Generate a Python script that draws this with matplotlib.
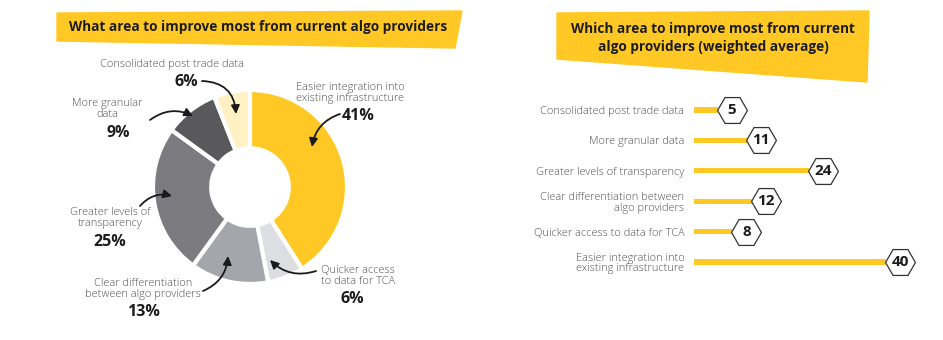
import matplotlib
matplotlib.use("Agg")
import matplotlib.pyplot as plt
from matplotlib.patches import Polygon
from matplotlib.transforms import ScaledTranslation

# ---- data ----
pie_labels = ["Easier integration into\nexisting infrastructure",
              "Quicker access\nto data for TCA",
              "Clear differentiation\nbetween algo providers",
              "Greater levels of\ntransparency",
              "More granular\ndata",
              "Consolidated post trade data"]
pie_values = [41, 6, 13, 25, 9, 6]
pie_colors = ["#FFC824", "#DCDEE1", "#A4A6AB", "#7B7B80", "#59595B", "#FFF1C4"]

bar_labels = ["Consolidated post trade data",
              "More granular data",
              "Greater levels of transparency",
              "Clear differentiation between\nalgo providers",
              "Quicker access to data for TCA",
              "Easier integration into\nexisting infrastructure"]
bar_values = [5, 11, 24, 12, 8, 40]

title_left = "What area to improve most from current algo providers"
title_right = "Which area to improve most from current\nalgo providers (weighted average)"

YELLOW = "#FFC824"
TXT = "#505050"
DARK = "#1c1c1c"
FONT = ["Open Sans", "DejaVu Sans"]
plt.rcParams["font.family"] = FONT

W, H = 943, 340
fig = plt.figure(figsize=(W / 100, H / 100), dpi=100)

def px_axes(x0, y0, w, h):
    return fig.add_axes([x0 / W, 1 - (y0 + h) / H, w / W, h / H])

# ---- donut ----
cx, cy, R = 250, 187, 97
axp = px_axes(cx - R, cy - R, 2 * R, 2 * R)
axp.pie(pie_values, colors=pie_colors, startangle=90, counterclock=False,
        radius=1.0, wedgeprops=dict(width=0.6, edgecolor="white", linewidth=3))
axp.set_xlim(-1, 1)
axp.set_ylim(-1, 1)
axp.set_aspect("equal")
axp.axis("off")

# ---- bars ----
x_left, px_per_unit = 694, 4.8
row_top, row_gap = 110, 30.4
n = len(bar_values)
ax_w = W - x_left
axb = px_axes(x_left, row_top - row_gap / 2, ax_w, row_gap * n)
ypos = list(range(n))
axb.barh(ypos, bar_values, height=0.17, color=YELLOW, left=0)
axb.set_xlim(0, ax_w / px_per_unit)
axb.set_ylim(n - 0.5, -0.5)
axb.set_yticks(ypos)
axb.set_yticklabels(bar_labels, fontsize=7.9, color=TXT, fontweight="light",
                    linespacing=1.0)
axb.tick_params(axis="y", length=0, pad=7)
axb.set_xticks([])
for s in axb.spines.values():
    s.set_visible(False)
axb.patch.set_alpha(0)

hex_off = ScaledTranslation(14 / 100, 0, fig.dpi_scale_trans)
for yi, v in zip(ypos, bar_values):
    axb.plot([v], [yi], marker="H", markersize=21.5, markerfacecolor="white",
             markeredgecolor="#333333", markeredgewidth=0.9,
             transform=axb.transData + hex_off, clip_on=False, zorder=3)
    axb.text(v, yi, str(v), ha="center", va="center", fontsize=11,
             fontweight="bold", color=DARK, transform=axb.transData + hex_off,
             zorder=4)

# ---- overlay: banners, labels, arrows ----
ov = fig.add_axes([0, 0, 1, 1], zorder=5)
ov.set_xlim(0, W)
ov.set_ylim(H, 0)
ov.axis("off")
ov.patch.set_alpha(0)

ov.add_patch(Polygon([(57, 13), (462, 11), (455, 48), (57, 41)],
                     closed=True, color=YELLOW, zorder=1))
ov.add_patch(Polygon([(557, 13), (869, 11), (867, 82), (557, 59)],
                     closed=True, color=YELLOW, zorder=1))
ov.text(258, 27, title_left, ha="center", va="center", fontsize=9.8,
        fontweight="bold", color=DARK, zorder=2)
ov.text(713, 38, title_right, ha="center", va="center", fontsize=9.8,
        fontweight="bold", color=DARK, linespacing=1.3, zorder=2)

# label text position, percent position, arrow start, arrow tip, curvature
label_layout = [
    ((350, 93), (358, 116), (340, 114), (312, 147), 0.3),
    ((358, 276), (352, 299), (316, 271), (270, 260), -0.3),
    ((143, 289), (143, 312), (203, 291), (228, 256), 0.3),
    ((110, 218), (110, 242), (140, 206), (172, 196), -0.3),
    ((107, 109), (118, 133), (150, 120), (193, 116), -0.3),
    ((172, 64), (186, 82), (202, 81), (236, 114), -0.45),
]
for lab, val, (tpos, ppos, a0, a1, rad) in zip(pie_labels, pie_values, label_layout):
    ov.text(*tpos, lab, ha="center", va="center", fontsize=7.9, color=TXT,
            fontweight="light", linespacing=1.0)
    ov.text(*ppos, f"{val}%", ha="center", va="center", fontsize=11.5,
            fontweight="bold", color=DARK)
    ov.annotate("", xy=a1, xytext=a0,
                arrowprops=dict(arrowstyle="-|>,head_length=0.5,head_width=0.25",
                                color="#1a1a1a", lw=1.3,
                                connectionstyle=f"arc3,rad={rad}",
                                shrinkA=0, shrinkB=0))

fig.savefig("out.png", dpi=100, facecolor="white")
